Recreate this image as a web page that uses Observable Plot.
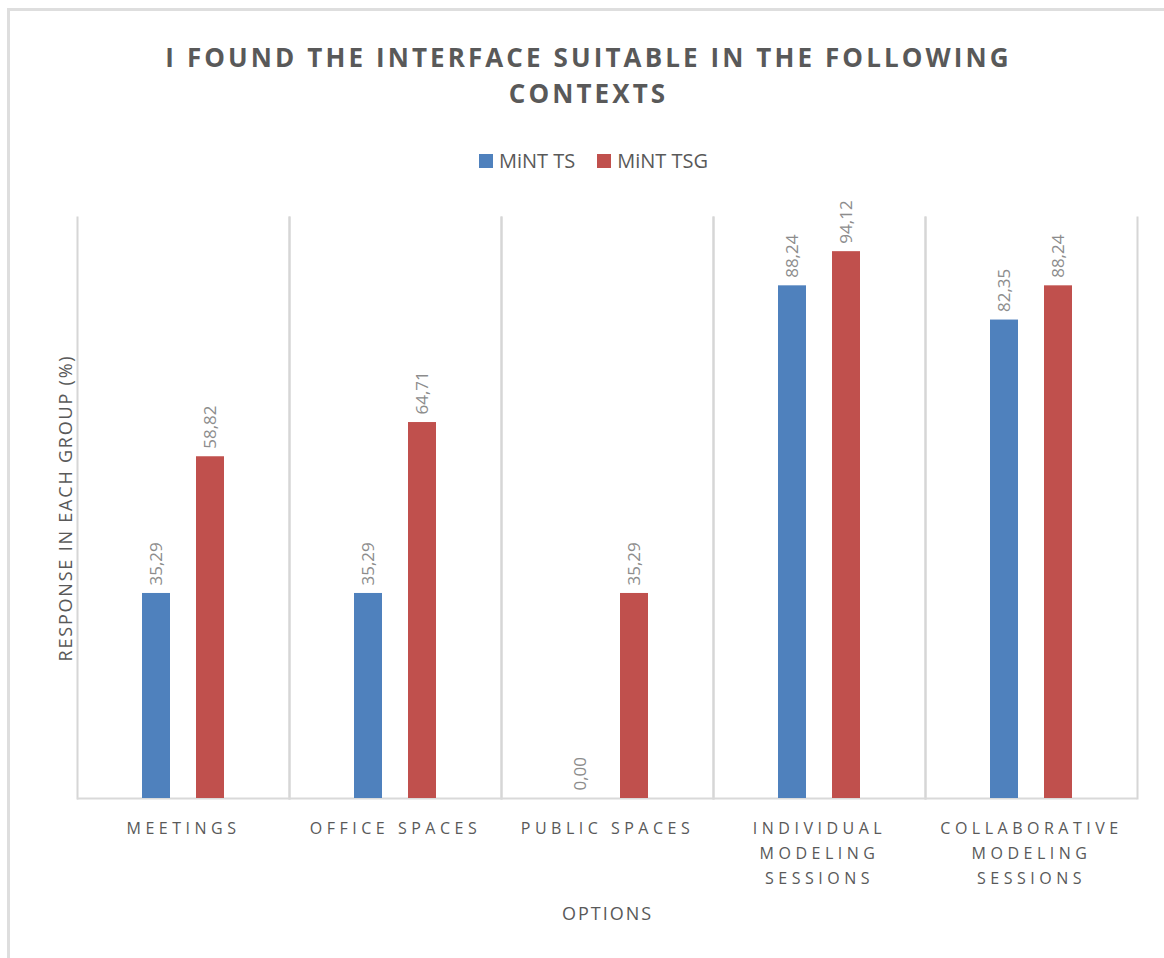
<!DOCTYPE html>
<html>
<head>
<meta charset="utf-8">
<script src="https://cdn.jsdelivr.net/npm/d3@7"></script>
<script src="https://cdn.jsdelivr.net/npm/@observablehq/plot@0.6"></script>
<style>
  html, body { margin: 0; padding: 0; background: #fff; }
  body { width: 1164px; height: 958px; position: relative; overflow: hidden; font-family: "Open Sans", sans-serif; }
  #border { position: absolute; left: 7px; top: 8px; width: 1200px; height: 1000px; border-top: 3px solid #dedede; border-left: 3px solid #dedede; }
  #title { position: absolute; left: 0; top: 39px; width: 1177px; text-align: center; font-size: 26px; font-weight: 700; line-height: 36px; color: #595959; letter-spacing: 3.1px; }
  #legend { position: absolute; left: 0; top: 147px; width: 1187px; display: flex; justify-content: center; gap: 22px; font-size: 20px; color: #595959; }
  #legend .item { display: flex; align-items: center; gap: 6px; }
  #legend .sw { width: 14px; height: 14px; display: inline-block; }
  #chart { position: absolute; left: 0; top: 190px; }
  #chart g[aria-label="fx-axis tick label"] text { letter-spacing: 4.5px; }
  #chart g[aria-label="fx-axis label"] text { letter-spacing: 2px; }
</style>
</head>
<body>
<div id="border"></div>
<div id="title">I FOUND THE INTERFACE SUITABLE IN THE FOLLOWING<br>CONTEXTS</div>
<div id="legend"></div>
<div id="chart"></div>
<script>
const categories = ["MEETINGS", "OFFICE SPACES", "PUBLIC SPACES", "INDIVIDUAL MODELING SESSIONS", "COLLABORATIVE MODELING SESSIONS"];
const categoryLabels = ["MEETINGS", "OFFICE SPACES", "PUBLIC SPACES", "INDIVIDUAL\nMODELING\nSESSIONS", "COLLABORATIVE\nMODELING\nSESSIONS"];
const series = ["MiNT TS", "MiNT TSG"];
const tsValues = [35.29, 35.29, 0.00, 88.24, 82.35];
const tsgValues = [58.82, 64.71, 35.29, 94.12, 88.24];
const colors = ["#4f81bd", "#c0504d"];
const yTitle = "RESPONSE IN EACH GROUP (%)";
const xTitle = "OPTIONS";

const data = categories.flatMap((c, i) => [
  {category: c, series: series[0], value: tsValues[i]},
  {category: c, series: series[1], value: tsgValues[i]}
]);
const fmt = v => d3.format(".2f")(v).replace(".", ",");

const legend = document.getElementById("legend");
series.forEach((s, i) => {
  const it = document.createElement("div");
  it.className = "item";
  it.innerHTML = `<span class="sw" style="background:${colors[i]}"></span><span>${s}</span>`;
  legend.appendChild(it);
});

const chart = Plot.plot({
  width: 1164,
  height: 768,
  marginLeft: 77,
  marginRight: 27,
  marginTop: 27,
  marginBottom: 160,
  style: {fontFamily: "Open Sans, sans-serif", background: "transparent"},
  fx: {domain: categories, padding: 0},
  x: {domain: series, paddingInner: 0.48, paddingOuter: 1.2, axis: null},
  y: {domain: [0, 100], axis: null},
  color: {domain: series, range: colors},
  marks: [
    Plot.frame({anchor: "left", stroke: "#d6d6d6", strokeWidth: 2}),
    Plot.frame({anchor: "right", stroke: "#d6d6d6", strokeWidth: 2}),
    Plot.ruleY([0], {stroke: "#d9d9d9", strokeWidth: 2}),
    Plot.barY(data, {fx: "category", x: "series", y: "value", fill: "series"}),
    Plot.text(data, {fx: "category", x: "series", y: "value", text: d => fmt(d.value), rotate: -90, textAnchor: "start", lineAnchor: "middle", dy: -8, fill: "#8c8c8c", fontSize: 17}),
    Plot.axisFx({
      anchor: "bottom",
      tickSize: 0,
      tickPadding: 18,
      tickFormat: d => categoryLabels[categories.indexOf(d)],
      fontSize: 16,
      lineHeight: 1.56,
      fill: "#595959",
      label: xTitle,
      labelAnchor: "center",
      labelOffset: 121
    }),
    Plot.text([yTitle], {
      fx: () => categories[0],
      frameAnchor: "left",
      textAnchor: "middle",
      rotate: -90,
      dx: -11,
      text: d => d,
      fontSize: 18,
      fill: "#595959"
    })
  ]
});
chart.querySelectorAll('g[aria-label="fx-axis label"] text').forEach(t => t.setAttribute("font-size", 18));
chart.querySelectorAll('text').forEach(t => { if (t.textContent === yTitle) t.style.letterSpacing = "1.8px"; });
document.getElementById("chart").appendChild(chart);
</script>
</body>
</html>
